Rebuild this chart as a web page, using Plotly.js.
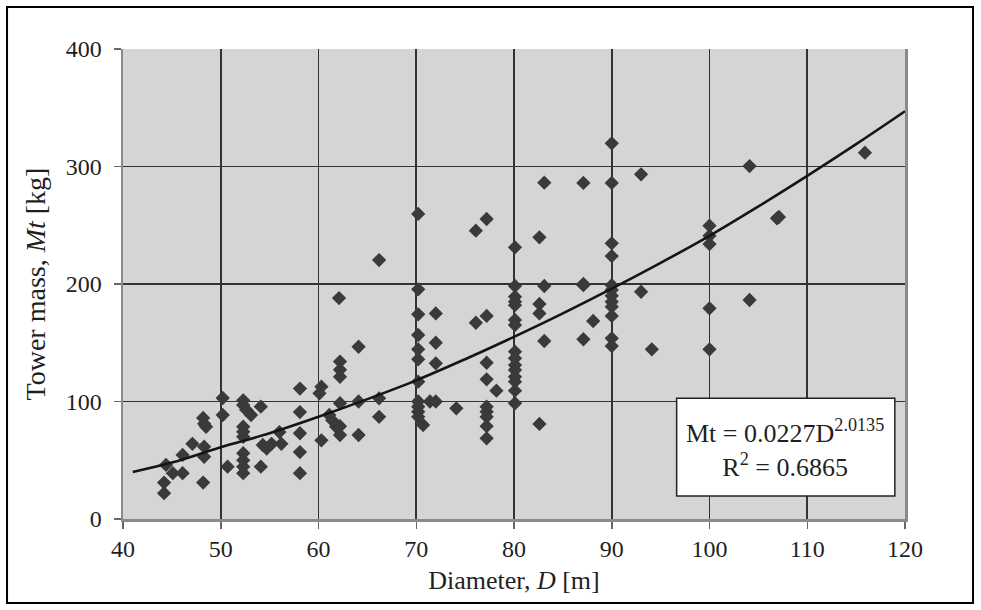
<!DOCTYPE html>
<html>
<head>
<meta charset="utf-8">
<script src="https://cdn.plot.ly/plotly-3.0.1.min.js"></script>
<style>html,body{margin:0;padding:0;background:#fff;}#chart{width:981px;height:610px;}</style>
</head>
<body>
<div id="chart"></div>
<script>
// Measured towers: rotor diameter D [m] and tower mass Mt
const diameter = [
  44.4, 44.2, 44.2, 45.1, 46.1, 46.1, 47.1, 48.2, 48.3, 48.5, 48.3, 48.3, 48.2,
  50.2, 50.2, 50.7, 52.3, 52.3, 52.6, 53.1, 52.3, 52.3, 52.3, 52.3, 52.3, 52.3, 52.3,
  54.1, 54.1, 54.3, 54.7, 55.2, 56.0, 56.2,
  58.1, 58.1, 58.1, 58.1, 58.1, 60.3, 60.1, 60.3, 61.1, 61.4, 61.8,
  62.1, 62.2, 62.2, 62.2, 62.2, 62.2, 62.2, 64.1, 64.1, 64.1, 66.2, 66.2, 66.2,
  70.2, 70.2, 70.2, 70.2, 70.2, 70.2, 70.2, 70.2, 70.2, 70.2, 70.2, 70.7, 71.4, 72.0,
  72.0, 72.0, 72.0, 74.1, 76.1, 77.2, 76.1, 77.2, 77.2, 77.2, 78.2, 77.2, 77.2, 77.2, 77.2, 77.2,
  80.1, 80.1, 80.1, 80.1, 80.1, 80.1, 80.1, 80.1, 80.1, 80.1, 80.1, 80.1, 80.1, 80.1, 80.1,
  82.6, 82.6, 82.6, 82.6, 83.1, 83.1, 83.1, 87.1, 87.1, 87.1, 87.1, 88.1,
  90.0, 90.0, 90.0, 90.0, 90.0, 90.0, 90.0, 90.0, 90.0, 90.0, 90.0, 90.0, 93.0, 93.0, 94.1,
  100.0, 100.0, 100.0, 100.0, 100.0, 104.1, 104.1, 106.9, 107.1, 115.9
];
const towerMass = [
  46, 31, 22, 39, 54.5, 39, 64, 86, 81, 78.5, 61.5, 53, 31,
  103, 88.5, 44.5, 101, 97, 93, 88.5, 78.6, 74.3, 70, 56, 50, 44.5, 39,
  95.6, 44.5, 63, 60, 64, 74, 64,
  111, 91, 73, 57, 39, 112.6, 107, 67, 88.5, 84, 78.5,
  188, 134, 127, 121, 98.5, 79, 71.5, 146.6, 100, 71.5, 220.4, 102.7, 87,
  259.6, 195.5, 174.2, 156.6, 144.4, 135.9, 116.9, 100, 95.6, 91.3, 87, 80, 100, 100,
  175, 150, 132.5, 94.2, 245.4, 255.3, 167, 172.8, 133, 118.9, 109.2, 95.6, 91.3, 87, 79, 68.7,
  231.2, 198.3, 189.2, 185, 182, 169.4, 165.1, 142.4, 136.8, 131, 126.8, 121.1, 116.9, 109.2, 98.5,
  239.7, 183, 175, 80.9, 286.2, 198.3, 151.5, 286, 199, 153, 200, 168.5,
  319.7, 286, 234.6, 223.8, 199, 195, 190, 185, 180.7, 172.8, 153.8, 147.2, 293.3, 193.4, 144.4,
  249.6, 241, 234, 179.3, 144.4, 300.4, 186.4, 255.9, 257, 311.8
];
// Power-law trendline
const trendD = [41, 45, 50, 55, 60, 65, 70, 75, 80, 85, 90, 95, 100, 105, 110, 115, 120];
const trendMt = [40, 48, 61, 73, 87, 102, 118, 136, 155, 175, 196, 218, 241, 266, 292, 319, 347];

const xTicks = [40, 50, 60, 70, 80, 90, 100, 110, 120];
const yTicks = [0, 100, 200, 300, 400];

const font = 'Liberation Serif, Times New Roman, serif';
const ink = '#1f1f1f';

const data = [
  {
    x: diameter, y: towerMass, type: 'scatter', mode: 'markers',
    marker: {symbol: 'diamond', size: 11, color: '#3a3a3a'},
    hoverinfo: 'x+y'
  },
  {
    x: trendD, y: trendMt, type: 'scatter', mode: 'lines',
    line: {color: '#151515', width: 2.6, shape: 'spline'},
    hoverinfo: 'skip'
  }
];

const layout = {
  width: 981, height: 610,
  margin: {l: 123, r: 76, t: 49, b: 91},
  paper_bgcolor: '#ffffff',
  plot_bgcolor: '#d4d5d7',
  showlegend: false,
  font: {family: font, size: 24, color: ink},
  xaxis: {
    range: [40, 120], tickvals: xTicks, ticktext: xTicks.map(String),
    showgrid: true, gridcolor: '#333333', gridwidth: 1.8,
    zeroline: false, showline: true, linecolor: '#8a8a8a', linewidth: 2.5,
    ticks: 'outside', ticklen: 7, tickcolor: '#666', tickwidth: 1.5,
    tickfont: {family: font, size: 24, color: ink},
    title: {text: 'Diameter, <i>D</i> [m]', font: {family: font, size: 26, color: ink}, standoff: 10}
  },
  yaxis: {
    range: [0, 400], tickvals: yTicks, ticktext: yTicks.map(String),
    showgrid: true, gridcolor: '#333333', gridwidth: 1.8,
    zeroline: false, showline: true, linecolor: '#8a8a8a', linewidth: 2.5, mirror: true,
    ticks: 'outside', ticklen: 7, tickcolor: '#666', tickwidth: 1.5,
    ticklabelstandoff: 7,
    tickfont: {family: font, size: 24, color: ink},
    title: {text: 'Tower mass, <i>Mt</i> [kg]', font: {family: font, size: 28, color: ink}, standoff: 12}
  },
  shapes: [
    {type: 'rect', xref: 'paper', yref: 'paper', x0: -0.1483, x1: 1.087, y0: -0.1787, y1: 1.0894,
     line: {color: '#000', width: 2}, fillcolor: 'rgba(0,0,0,0)', layer: 'below'},
    {type: 'rect', xref: 'paper', yref: 'paper', x0: 0.708, x1: 0.987, y0: 0.049, y1: 0.257,
     line: {color: '#222', width: 1.5}, fillcolor: '#ffffff', layer: 'above'}
  ],
  annotations: [
    {xref: 'paper', yref: 'paper', x: 0.847, y: 0.151, xanchor: 'center', yanchor: 'middle',
     text: 'Mt = 0.0227D<sup>2.0135</sup><br>R<sup>2</sup> = 0.6865', showarrow: false,
     align: 'center', font: {family: font, size: 26, color: ink}}
  ]
};

Plotly.newPlot('chart', data, layout, {displayModeBar: false, staticPlot: true});
</script>
</body>
</html>
